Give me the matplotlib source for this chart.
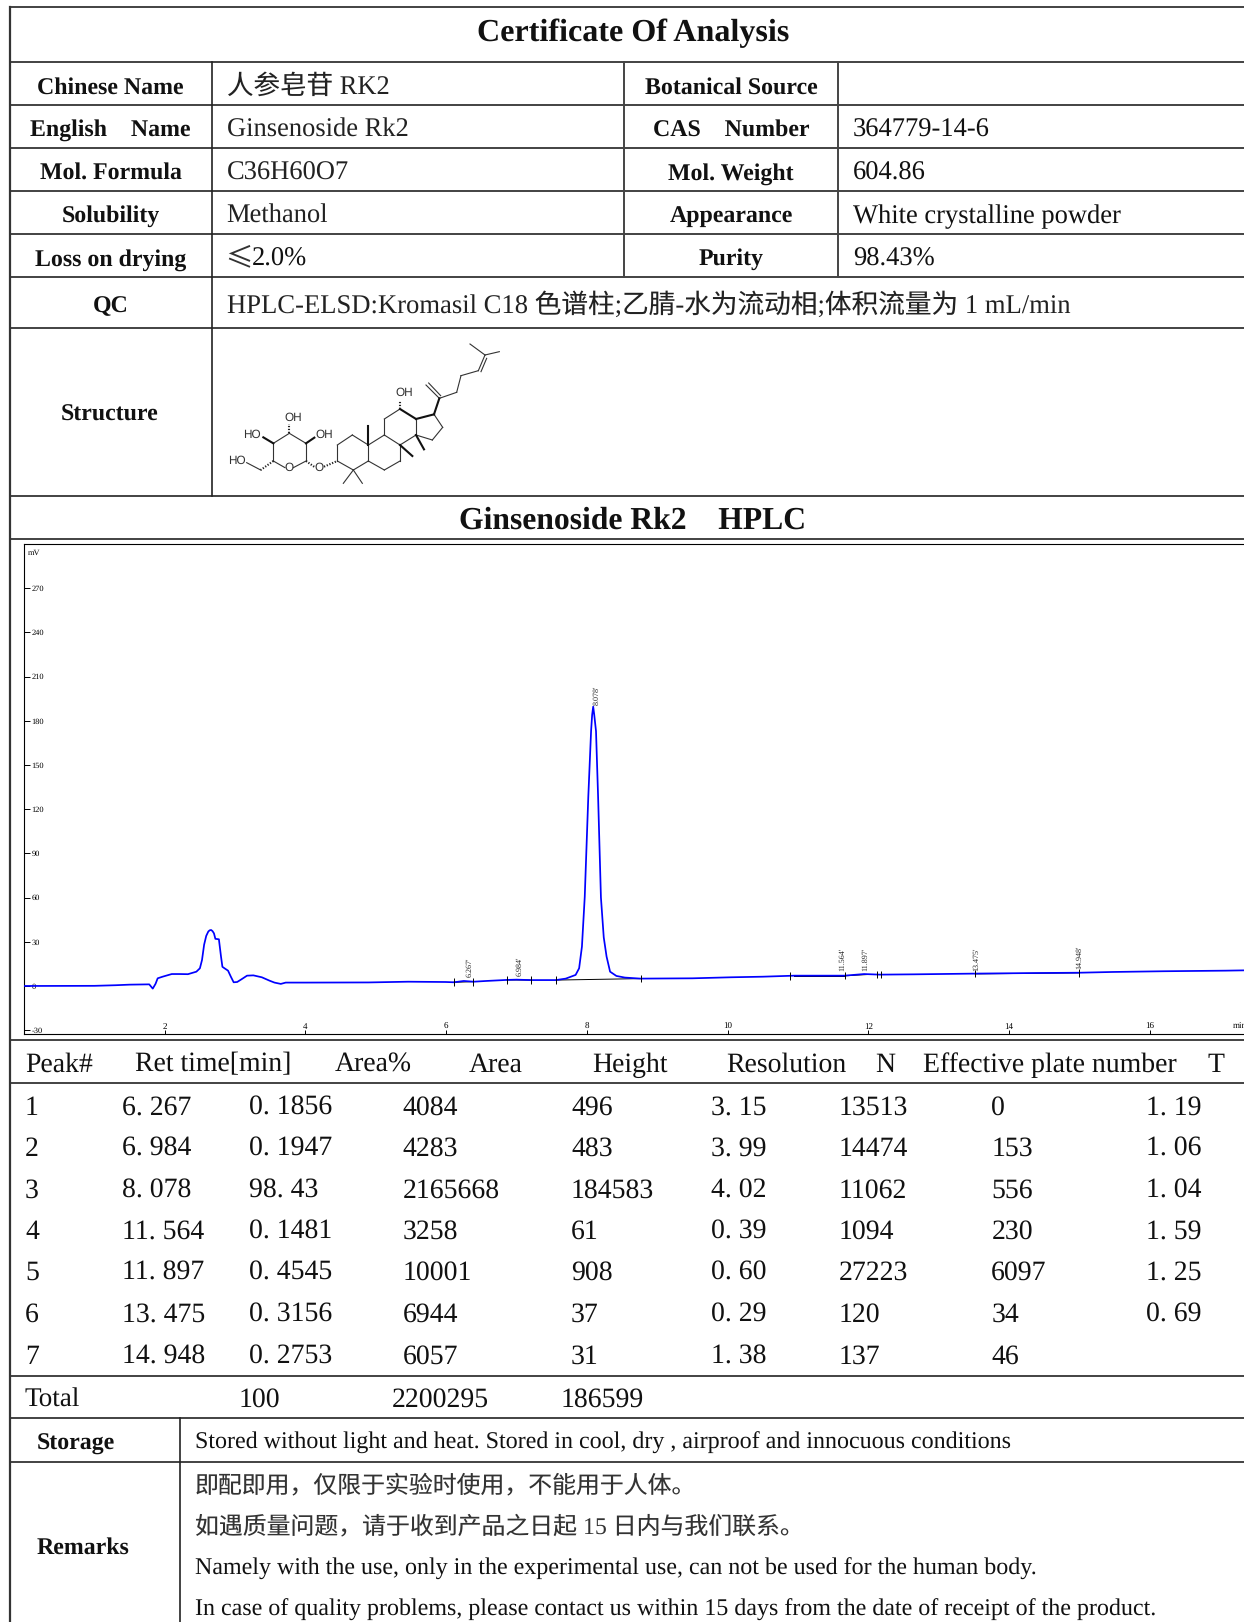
import matplotlib
matplotlib.use("Agg")
from matplotlib import pyplot as plt
import numpy as np

SERIF = ["Liberation Serif", "Noto Sans CJK SC", "DejaVu Sans"]
plt.rcParams["font.family"] = SERIF
plt.rcParams["axes.unicode_minus"] = False
plt.rcParams["text.hinting"] = "no_hinting"

# chromatogram (min, mV)
trace_t = [0, 1.0, 1.3, 1.5, 1.78, 1.83, 1.87, 1.9, 1.97, 2.1, 2.21, 2.33, 2.45, 2.5, 2.53, 2.56, 2.59, 2.62, 2.64, 2.66,
           2.68, 2.7, 2.72, 2.77, 2.8, 2.82, 2.85, 2.9, 2.94, 2.98, 3.03, 3.09, 3.17, 3.26, 3.38, 3.49, 3.56, 3.65,
           3.72, 4.01, 4.9, 5.46, 5.99, 6.11, 6.25, 6.39, 6.57, 6.86, 7.0, 7.2, 7.56, 7.7, 7.84, 7.89, 7.93,
           7.97, 8.02, 8.06, 8.075, 8.09, 8.105, 8.13, 8.16, 8.2, 8.24, 8.28, 8.33, 8.42, 8.54, 8.76, 9.5, 10.05, 10.5,
           10.95, 11.66, 11.94, 12.16, 12.65, 13.52, 14.4, 15.0, 15.47, 16.2, 17.08, 17.34]
trace_v = [0, 0.1, 0.5, 0.9, 1.1, -1.8, 1.5, 5.2, 6.3, 8.1, 8.1, 8.0, 9.7, 12, 17.6, 28, 34, 37, 37.8, 38,
           37.2, 35.7, 32, 31.7, 20, 13, 12, 10.4, 6.3, 2.5, 2.7, 4.5, 7, 7.2, 5.9, 3.6, 2.3, 1.4,
           2.3, 2.3, 2.4, 2.9, 2.7, 2.5, 3.4, 2.9, 3.4, 4.1, 4.3, 4.0, 4.0, 5.0, 7.5, 12, 26.7,
           60.6, 128, 173, 184, 189.6, 184, 173, 128, 60, 33, 20, 9.7, 6.8, 5.7, 5.0, 5.2, 5.9, 6.3,
           7.0, 7.0, 8.1, 7.7, 7.9, 8.4, 8.8, 9.0, 9.5, 10.0, 10.4, 10.6]

# integration marks and peak baselines
mark_t = [6.11, 6.38, 6.86, 7.21, 7.56, 8.77, 10.89, 11.67, 12.13, 12.18, 13.52, 14.99]
mark_v = [2.5, 2.9, 4.1, 4.0, 4.0, 5.0, 6.8, 7.0, 7.7, 7.7, 8.4, 9.0]
base_t = [(6.11, 6.38), (6.86, 7.21), (7.56, 8.77), (10.95, 11.67), (11.67, 12.0), (13.52, 14.99)]
base_v = [(2.5, 2.9), (4.1, 4.0), (4.0, 5.0), (6.9, 6.9), (6.9, 7.8), (8.2, 8.9)]

peak_labels = ["6.267'", "6.984'", "8.078'", "11.564'", "11.897'", "13.475'", "14.948'"]
peak_t = [6.335, 7.045, 8.135, 11.625, 11.955, 13.535, 15.005]
peak_v = [6.3, 6.8, 191, 10, 10, 10.5, 11.5]

y_ticks = [-30, 0, 30, 60, 90, 120, 150, 180, 210, 240, 270]
x_ticks = [2, 4, 6, 8, 10, 12, 14, 16]

# peak table columns
col_peak = ["1", "2", "3", "4", "5", "6", "7"]
col_ret = ["6. 267", "6. 984", "8. 078", "11. 564", "11. 897", "13. 475", "14. 948"]
col_pct = ["0. 1856", "0. 1947", "98. 43", "0. 1481", "0. 4545", "0. 3156", "0. 2753"]
col_area = ["4084", "4283", "2165668", "3258", "10001", "6944", "6057"]
col_height = ["496", "483", "184583", "61", "908", "37", "31"]
col_res = ["3. 15", "3. 99", "4. 02", "0. 39", "0. 60", "0. 29", "1. 38"]
col_n = ["13513", "14474", "11062", "1094", "27223", "120", "137"]
col_eff = ["0", "153", "556", "230", "6097", "34", "46"]
col_t = ["1. 19", "1. 06", "1. 04", "1. 59", "1. 25", "0. 69", ""]
headers = ["Peak#", "Ret time[min]", "Area%", "Area", "Height", "Resolution", "N", "Effective plate number", "T"]
header_x = [25, 135, 335, 468.3, 592.7, 726, 875, 923.3, 1208]
col_x = [25, 122.3, 249, 402.7, 571, 711, 838.3, 991.3, 1145.7]
row_y = [1115, 1156, 1197.3, 1239, 1280, 1322, 1364]

# structure drawing, pixels of the reference crop
single_bonds = [((318, 340), (268, 310)), ((268, 310), (220, 340)), ((220, 340), (220, 393)), ((220, 393), (255, 413)),
                ((280, 413), (318, 393)), ((318, 393), (318, 340)), ((182, 420), (140, 398)),
                ((412, 393), (412, 345)), ((412, 345), (457, 315)), ((457, 315), (505, 345)), ((505, 345), (505, 393)),
                ((505, 393), (460, 420)), ((460, 420), (412, 393)), ((460, 420), (430, 460)), ((460, 420), (487, 460)),
                ((505, 345), (553, 315)), ((553, 315), (600, 345)), ((600, 345), (600, 393)), ((600, 393), (553, 420)),
                ((553, 420), (505, 393)), ((553, 315), (553, 267)), ((553, 267), (600, 237)),
                ((648, 267), (648, 315)), ((648, 315), (600, 345)), ((702, 253), (728, 292)),
                ((728, 292), (697, 330)), ((697, 330), (648, 315)), ((718, 205), (678, 165)), ((686, 159), (722, 197)),
                ((718, 205), (770, 187)), ((770, 187), (783, 137)), ((783, 137), (835, 122)), ((835, 122), (855, 75)),
                ((843, 125), (860, 85)), ((855, 75), (810, 42)), ((855, 75), (898, 65))]
wedge_bonds = [((220, 340), (190, 322)), ((318, 340), (343, 323)), ((505, 345), (505, 287)), ((600, 345), (637, 378)),
               ((648, 315), (672, 358)), ((702, 253), (718, 205)), ((600, 237), (645, 265)), ((648, 267), (702, 253))]
hash_bonds = [((268, 310), (268, 282)), ((220, 393), (182, 420)), ((318, 393), (345, 412)), ((372, 410), (412, 393)),
              ((600, 237), (600, 212))]
atom_labels = [("OH", 280, 263), ("HO", 155, 313), ("OH", 372, 313), ("HO", 112, 392), ("O", 268, 414), ("O", 358, 414),
               ("OH", 612, 187)]

W, H = 1244, 1622
LINE = "#222222"
fig = plt.figure(figsize=(W / 100, H / 100), dpi=100)

# whole page axes, in pixels
page = fig.add_axes([0, 0, 1, 1])
page.set_xlim(0, W)
page.set_ylim(H, 0)
page.axis("off")


def txt(x, y, s, size=19.1, **kw):
    kw.setdefault("va", "baseline")
    kw.setdefault("color", "#111111")
    page.text(x, y, s, fontsize=size, **kw)


for y in [7.3, 62.3, 105.3, 148.3, 191.3, 234.3, 277.3, 328.3, 496, 539.3, 1040, 1082.7, 1376, 1418.3, 1461.7]:
    page.plot([10, W], [y, y], color=LINE, lw=1.2)
page.plot([10, 10], [7.3, H], color="#333333", lw=1.6)
page.plot([211.7, 211.7], [62.3, 496], color=LINE, lw=1.2)
for x in [624, 838]:
    page.plot([x, x], [62.3, 277.3], color="#444444", lw=1.4)
page.plot([180, 180], [1418.3, H], color=LINE, lw=1.2)

txt(633, 40.7, "Certificate Of Analysis", size=23.1, weight="bold", ha="center")
txt(633, 529, "Ginsenoside Rk2    HPLC", size=22.8, weight="bold", ha="center")

left_labels = ["Chinese Name", "English    Name", "Mol. Formula", "Solubility", "Loss on drying", "QC"]
left_base = [93.3, 136, 179.3, 222.3, 265.3, 311.7]
for s, y in zip(left_labels, left_base):
    txt(110.7, y, s, size=17.2, weight="bold", ha="center")
txt(109.6, 421, "Structure", size=17.2, weight="bold", ha="center")

right_labels = ["Botanical Source", "CAS    Number", "Mol. Weight", "Appearance", "Purity"]
for s, y in zip(right_labels, left_base):
    txt(731, y, s, size=17.2, weight="bold", ha="center")

left_values = ["人参皂苷 RK2", "Ginsenoside Rk2", "C36H60O7", "Methanol", "", "HPLC-ELSD:Kromasil C18 色谱柱;乙腈-水为流动相;体积流量为 1 mL/min"]
for s, y in zip(left_values, left_base):
    txt(226.7, y + 0.7, s, color="#222222", size=19.2 if s.startswith("HPLC") else 19.1)
txt(225.5, 266, "≤", family=["Noto Sans CJK SC"], size=20, color="#333333")
txt(252.3, 266, "2.0%")
right_values = ["", "364779-14-6", "604.86", "White crystalline powder", "98.43%"]
for s, y in zip(right_values, left_base):
    txt(853, y + 0.7, s)

# peak table
for s, x in zip(headers, header_x):
    txt(x, 1071.7, s, size=20)
columns = [col_peak, col_ret, col_pct, col_area, col_height, col_res, col_n, col_eff, col_t]
for col, x in zip(columns, col_x):
    for s, y in zip(col, row_y):
        txt(x, y, s, size=20)
txt(25, 1406.7, "Total", size=19.5)
for s, x in zip(["100", "2200295", "186599"], [239, 391.7, 561]):
    txt(x, 1406.7, s, size=20)

txt(36.7, 1449.3, "Storage", size=17.2, weight="bold")
txt(36.7, 1554, "Remarks", size=17.2, weight="bold")
txt(195, 1449.3, "Stored without light and heat. Stored in cool, dry , airproof and innocuous conditions", size=17.27)
txt(195, 1492.7, "即配即用，仅限于实验时使用，不能用于人体。", size=17.2, color="#333333")
txt(195, 1533, "如遇质量问题，请于收到产品之日起 15 日内与我们联系。", size=17.2, color="#333333")
txt(195, 1575, "Namely with the use, only in the experimental use, can not be used for the human body.", size=17.27)
txt(195, 1616, "In case of quality problems, please contact us within 15 days from the date of receipt of the product.", size=17.27)

# structure: crop pixels to page pixels
for (a, b) in single_bonds:
    page.plot([200 + a[0] / 3, 200 + b[0] / 3], [330 + a[1] / 3, 330 + b[1] / 3], color="#333333", lw=0.8)
for (a, b) in wedge_bonds:
    page.plot([200 + a[0] / 3, 200 + b[0] / 3], [330 + a[1] / 3, 330 + b[1] / 3], color="#111111", lw=1.5)
for (a, b) in hash_bonds:
    page.plot([200 + a[0] / 3, 200 + b[0] / 3], [330 + a[1] / 3, 330 + b[1] / 3], color="#222222", lw=1.5, ls=(0, (0.6, 0.8)))
for s, x, y in atom_labels:
    page.text(200 + x / 3, 330 + y / 3, s, fontsize=8.5, family="Liberation Sans", color="#333333", ha="center", va="center")

# chromatogram
ax = fig.add_axes([24 / W, 1 - 1034 / H, (W - 24) / W, (1034 - 544) / H])
ax.set_xlim(0.0, 17.34)
ax.set_ylim(-32.6, 300)
ax.plot(trace_t, trace_v, color="#0000ff", lw=1.25, zorder=3)
for t, v in zip(base_t, base_v):
    ax.plot(t, v, color="black", lw=0.7, zorder=2)
ax.vlines(mark_t, np.array(mark_v) - 2.6, np.array(mark_v) + 2.6, color="black", lw=0.7, zorder=4)
for s, t, v in zip(peak_labels, peak_t, peak_v):
    ax.text(t, v, s, rotation=90, fontsize=5.8, ha="center", va="bottom", color="#222222")

ax.set_xticks(x_ticks)
ax.set_yticks(y_ticks)
ax.tick_params(axis="y", direction="in", length=4, width=0.7, pad=-5.5, labelsize=6)
ax.tick_params(axis="x", direction="in", length=3, width=0.7, pad=-2, labelsize=6.5)
for lab in ax.get_yticklabels():
    lab.set_ha("left")
for lab in ax.get_xticklabels():
    lab.set_va("bottom")
ax.spines["right"].set_visible(False)
for side in ["left", "top", "bottom"]:
    ax.spines[side].set_linewidth(0.8)
ax.text(0.05, 294, "mV", fontsize=6, va="center", ha="left")
ax.text(17.18, -27, "min", fontsize=6.5, va="center", ha="left")

fig.savefig("out.png", dpi=100)
